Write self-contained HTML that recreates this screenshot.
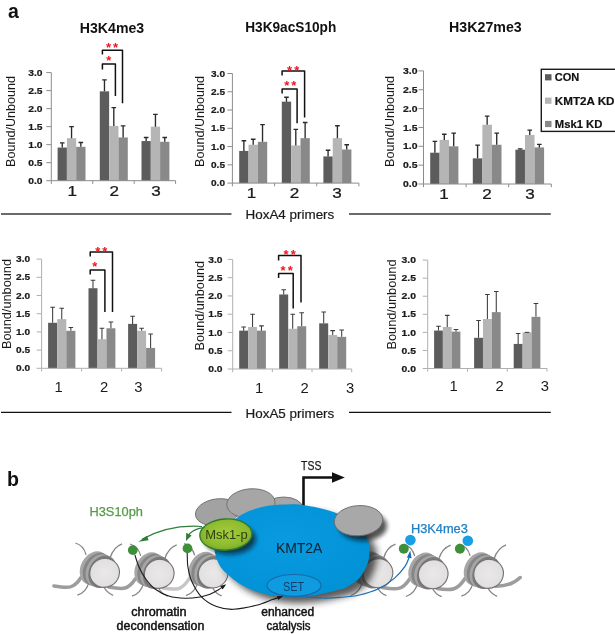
<!DOCTYPE html>
<html lang="en"><head><meta charset="utf-8"><title>Figure</title>
<style>html,body{margin:0;padding:0;background:#fff}svg{display:block}text{font-family:"Liberation Sans",sans-serif}</style></head><body>
<svg width="615" height="634" viewBox="0 0 615 634">
<rect width="615" height="634" fill="#fff"/>
<text x="8" y="18" font-size="19.5" font-weight="bold" fill="#111">a</text>
<text x="7" y="485.7" font-size="19.6" font-weight="bold" fill="#111">b</text>
<text x="79.8" y="32.8" font-size="14.2" font-weight="bold" textLength="64.4" lengthAdjust="spacingAndGlyphs" fill="#111">H3K4me3</text>
<text x="245.2" y="32.4" font-size="14.2" font-weight="bold" textLength="91.1" lengthAdjust="spacingAndGlyphs" fill="#111">H3K9acS10ph</text>
<text x="449.1" y="32.4" font-size="14.2" font-weight="bold" textLength="72.6" lengthAdjust="spacingAndGlyphs" fill="#111">H3K27me3</text>
<rect x="57.6" y="147.55" width="9.3" height="33.15" fill="#5c5c5c"/>
<path d="M62.25 147.55V142.86M59.95 142.86H64.55" stroke="#2a2a2a" stroke-width="1.35" fill="none"/>
<rect x="66.9" y="138.18" width="9.3" height="42.52" fill="#b5b5b5"/>
<path d="M71.55 138.18V126.65M69.25 126.65H73.85" stroke="#2a2a2a" stroke-width="1.35" fill="none"/>
<rect x="76.2" y="146.83" width="9.3" height="33.87" fill="#898989"/>
<path d="M80.85 146.83V142.5M78.55 142.5H83.15" stroke="#2a2a2a" stroke-width="1.35" fill="none"/>
<rect x="99.8" y="91.34" width="9.33" height="89.36" fill="#5c5c5c"/>
<path d="M104.47 91.34V79.81M102.17 79.81H106.77" stroke="#2a2a2a" stroke-width="1.35" fill="none"/>
<rect x="109.13" y="125.93" width="9.33" height="54.77" fill="#b5b5b5"/>
<path d="M113.8 125.93V107.55M111.5 107.55H116.1" stroke="#2a2a2a" stroke-width="1.35" fill="none"/>
<rect x="118.47" y="137.46" width="9.33" height="43.24" fill="#898989"/>
<path d="M123.13 137.46V125.93M120.83 125.93H125.43" stroke="#2a2a2a" stroke-width="1.35" fill="none"/>
<rect x="141.5" y="141.06" width="9.3" height="39.64" fill="#5c5c5c"/>
<path d="M146.15 141.06V137.46M143.85 137.46H148.45" stroke="#2a2a2a" stroke-width="1.35" fill="none"/>
<rect x="150.8" y="126.65" width="9.3" height="54.05" fill="#b5b5b5"/>
<path d="M155.45 126.65V114.4M153.15 114.4H157.75" stroke="#2a2a2a" stroke-width="1.35" fill="none"/>
<rect x="160.1" y="141.78" width="9.3" height="38.92" fill="#898989"/>
<path d="M164.75 141.78V137.46M162.45 137.46H167.05" stroke="#2a2a2a" stroke-width="1.35" fill="none"/>
<path d="M51.3 72.6V180.7H175.6M46.3 180.7H51.3M46.3 162.68H51.3M46.3 144.67H51.3M46.3 126.65H51.3M46.3 108.63H51.3M46.3 90.62H51.3M46.3 72.6H51.3M51.3 180.7V183.9M92.73 180.7V183.9M134.17 180.7V183.9M175.6 180.7V183.9" stroke="#8c8c8c" stroke-width="1" fill="none"/>
<text x="28.2" y="183.85" font-size="8.8" font-weight="bold" textLength="14.3" lengthAdjust="spacingAndGlyphs" fill="#1a1a1a" stroke="#1a1a1a" stroke-width="0.2">0.0</text>
<text x="28.2" y="165.83" font-size="8.8" font-weight="bold" textLength="14.3" lengthAdjust="spacingAndGlyphs" fill="#1a1a1a" stroke="#1a1a1a" stroke-width="0.2">0.5</text>
<text x="28.2" y="147.82" font-size="8.8" font-weight="bold" textLength="14.3" lengthAdjust="spacingAndGlyphs" fill="#1a1a1a" stroke="#1a1a1a" stroke-width="0.2">1.0</text>
<text x="28.2" y="129.8" font-size="8.8" font-weight="bold" textLength="14.3" lengthAdjust="spacingAndGlyphs" fill="#1a1a1a" stroke="#1a1a1a" stroke-width="0.2">1.5</text>
<text x="28.2" y="111.78" font-size="8.8" font-weight="bold" textLength="14.3" lengthAdjust="spacingAndGlyphs" fill="#1a1a1a" stroke="#1a1a1a" stroke-width="0.2">2.0</text>
<text x="28.2" y="93.77" font-size="8.8" font-weight="bold" textLength="14.3" lengthAdjust="spacingAndGlyphs" fill="#1a1a1a" stroke="#1a1a1a" stroke-width="0.2">2.5</text>
<text x="28.2" y="75.75" font-size="8.8" font-weight="bold" textLength="14.3" lengthAdjust="spacingAndGlyphs" fill="#1a1a1a" stroke="#1a1a1a" stroke-width="0.2">3.0</text>
<text transform="translate(15.2 121.5) rotate(-90)" text-anchor="middle" font-size="12.5" textLength="91" lengthAdjust="spacingAndGlyphs" fill="#1a1a1a">Bound/Unbound</text>
<text transform="translate(72.3 195.7) scale(1.22 1)" text-anchor="middle" font-size="14" fill="#1a1a1a" stroke="#1a1a1a" stroke-width="0.25">1</text>
<text transform="translate(114.3 195.7) scale(1.22 1)" text-anchor="middle" font-size="14" fill="#1a1a1a" stroke="#1a1a1a" stroke-width="0.25">2</text>
<text transform="translate(156.1 195.7) scale(1.22 1)" text-anchor="middle" font-size="14" fill="#1a1a1a" stroke="#1a1a1a" stroke-width="0.25">3</text>
<path d="M102.4 54.5V50.2H122.5V103.3" stroke="#111" stroke-width="1.5" stroke-linejoin="round" fill="none"/>
<path d="M102.4 69.5V63.9H115.4V96.1" stroke="#111" stroke-width="1.5" stroke-linejoin="round" fill="none"/>
<text x="108.6" y="52.4" text-anchor="middle" font-size="13" font-weight="bold" fill="#f0141e">*</text><text x="115.5" y="52.4" text-anchor="middle" font-size="13" font-weight="bold" fill="#f0141e">*</text>
<text x="108.9" y="65.3" text-anchor="middle" font-size="13" font-weight="bold" fill="#f0141e">*</text>
<rect x="239.2" y="150.95" width="9.33" height="32.15" fill="#5c5c5c"/>
<path d="M243.87 150.95V140.72M241.57 140.72H246.17" stroke="#2a2a2a" stroke-width="1.35" fill="none"/>
<rect x="248.53" y="144.74" width="9.33" height="38.36" fill="#b5b5b5"/>
<path d="M253.2 144.74V139.26M250.9 139.26H255.5" stroke="#2a2a2a" stroke-width="1.35" fill="none"/>
<rect x="257.87" y="141.82" width="9.33" height="41.28" fill="#898989"/>
<path d="M262.53 141.82V124.65M260.23 124.65H264.83" stroke="#2a2a2a" stroke-width="1.35" fill="none"/>
<rect x="281.8" y="101.63" width="9.33" height="81.47" fill="#5c5c5c"/>
<path d="M286.47 101.63V97.25M284.17 97.25H288.77" stroke="#2a2a2a" stroke-width="1.35" fill="none"/>
<rect x="291.13" y="145.47" width="9.33" height="37.63" fill="#b5b5b5"/>
<path d="M295.8 145.47V129.4M293.5 129.4H298.1" stroke="#2a2a2a" stroke-width="1.35" fill="none"/>
<rect x="300.47" y="138.16" width="9.33" height="44.94" fill="#898989"/>
<path d="M305.13 138.16V122.45M302.83 122.45H307.43" stroke="#2a2a2a" stroke-width="1.35" fill="none"/>
<rect x="323.4" y="156.43" width="9.33" height="26.67" fill="#5c5c5c"/>
<path d="M328.07 156.43V150.22M325.77 150.22H330.37" stroke="#2a2a2a" stroke-width="1.35" fill="none"/>
<rect x="332.73" y="138.16" width="9.33" height="44.94" fill="#b5b5b5"/>
<path d="M337.4 138.16V125.74M335.1 125.74H339.7" stroke="#2a2a2a" stroke-width="1.35" fill="none"/>
<rect x="342.07" y="149.49" width="9.33" height="33.61" fill="#898989"/>
<path d="M346.73 149.49V144.74M344.43 144.74H349.03" stroke="#2a2a2a" stroke-width="1.35" fill="none"/>
<path d="M232.4 73.5V183.1H358.9M227.4 183.1H232.4M227.4 164.83H232.4M227.4 146.57H232.4M227.4 128.3H232.4M227.4 110.03H232.4M227.4 91.77H232.4M227.4 73.5H232.4M232.4 183.1V186.3M274.57 183.1V186.3M316.73 183.1V186.3M358.9 183.1V186.3" stroke="#8c8c8c" stroke-width="1" fill="none"/>
<text x="211" y="186.25" font-size="8.8" font-weight="bold" textLength="14" lengthAdjust="spacingAndGlyphs" fill="#1a1a1a" stroke="#1a1a1a" stroke-width="0.2">0.0</text>
<text x="211" y="167.98" font-size="8.8" font-weight="bold" textLength="14" lengthAdjust="spacingAndGlyphs" fill="#1a1a1a" stroke="#1a1a1a" stroke-width="0.2">0.5</text>
<text x="211" y="149.72" font-size="8.8" font-weight="bold" textLength="14" lengthAdjust="spacingAndGlyphs" fill="#1a1a1a" stroke="#1a1a1a" stroke-width="0.2">1.0</text>
<text x="211" y="131.45" font-size="8.8" font-weight="bold" textLength="14" lengthAdjust="spacingAndGlyphs" fill="#1a1a1a" stroke="#1a1a1a" stroke-width="0.2">1.5</text>
<text x="211" y="113.18" font-size="8.8" font-weight="bold" textLength="14" lengthAdjust="spacingAndGlyphs" fill="#1a1a1a" stroke="#1a1a1a" stroke-width="0.2">2.0</text>
<text x="211" y="94.92" font-size="8.8" font-weight="bold" textLength="14" lengthAdjust="spacingAndGlyphs" fill="#1a1a1a" stroke="#1a1a1a" stroke-width="0.2">2.5</text>
<text x="211" y="76.65" font-size="8.8" font-weight="bold" textLength="14" lengthAdjust="spacingAndGlyphs" fill="#1a1a1a" stroke="#1a1a1a" stroke-width="0.2">3.0</text>
<text transform="translate(204.3 121.5) rotate(-90)" text-anchor="middle" font-size="12.5" textLength="91" lengthAdjust="spacingAndGlyphs" fill="#1a1a1a">Bound/Unbound</text>
<text transform="translate(251.5 197.8) scale(1.22 1)" text-anchor="middle" font-size="14" fill="#1a1a1a" stroke="#1a1a1a" stroke-width="0.25">1</text>
<text transform="translate(294.5 197.8) scale(1.22 1)" text-anchor="middle" font-size="14" fill="#1a1a1a" stroke="#1a1a1a" stroke-width="0.25">2</text>
<text transform="translate(337 197.8) scale(1.22 1)" text-anchor="middle" font-size="14" fill="#1a1a1a" stroke="#1a1a1a" stroke-width="0.25">3</text>
<path d="M282.1 75.5V70.9H304.6V117.4" stroke="#111" stroke-width="1.5" stroke-linejoin="round" fill="none"/>
<path d="M282.1 93.4V89.1H297.1V123.3" stroke="#111" stroke-width="1.5" stroke-linejoin="round" fill="none"/>
<text x="289.5" y="74.6" text-anchor="middle" font-size="13" font-weight="bold" fill="#f0141e">*</text><text x="296.8" y="74.6" text-anchor="middle" font-size="13" font-weight="bold" fill="#f0141e">*</text>
<text x="286.7" y="89.6" text-anchor="middle" font-size="13" font-weight="bold" fill="#f0141e">*</text><text x="293.8" y="89.6" text-anchor="middle" font-size="13" font-weight="bold" fill="#f0141e">*</text>
<rect x="430.2" y="152.71" width="9.4" height="31.29" fill="#5c5c5c"/>
<path d="M434.9 152.71V141.4M432.6 141.4H437.2" stroke="#2a2a2a" stroke-width="1.35" fill="none"/>
<rect x="439.6" y="139.89" width="9.4" height="44.11" fill="#b5b5b5"/>
<path d="M444.3 139.89V134.24M442 134.24H446.6" stroke="#2a2a2a" stroke-width="1.35" fill="none"/>
<rect x="449" y="146.3" width="9.4" height="37.7" fill="#898989"/>
<path d="M453.7 146.3V133.11M451.4 133.11H456" stroke="#2a2a2a" stroke-width="1.35" fill="none"/>
<rect x="472.8" y="158.36" width="9.57" height="25.64" fill="#5c5c5c"/>
<path d="M477.58 158.36V145.17M475.28 145.17H479.88" stroke="#2a2a2a" stroke-width="1.35" fill="none"/>
<rect x="482.37" y="124.81" width="9.57" height="59.19" fill="#b5b5b5"/>
<path d="M487.15 124.81V116.14M484.85 116.14H489.45" stroke="#2a2a2a" stroke-width="1.35" fill="none"/>
<rect x="491.93" y="144.79" width="9.57" height="39.21" fill="#898989"/>
<path d="M496.72 144.79V133.11M494.42 133.11H499.02" stroke="#2a2a2a" stroke-width="1.35" fill="none"/>
<rect x="515.4" y="149.69" width="9.57" height="34.31" fill="#5c5c5c"/>
<path d="M520.18 149.69V148.94M517.88 148.94H522.48" stroke="#2a2a2a" stroke-width="1.35" fill="none"/>
<rect x="524.97" y="134.99" width="9.57" height="49.01" fill="#b5b5b5"/>
<path d="M529.75 134.99V130.09M527.45 130.09H532.05" stroke="#2a2a2a" stroke-width="1.35" fill="none"/>
<rect x="534.53" y="147.43" width="9.57" height="36.57" fill="#898989"/>
<path d="M539.32 147.43V144.42M537.02 144.42H541.62" stroke="#2a2a2a" stroke-width="1.35" fill="none"/>
<path d="M423.5 70.9V184H551.3M418.5 184H423.5M418.5 165.15H423.5M418.5 146.3H423.5M418.5 127.45H423.5M418.5 108.6H423.5M418.5 89.75H423.5M418.5 70.9H423.5M423.5 184V187.2M466.1 184V187.2M508.7 184V187.2M551.3 184V187.2" stroke="#8c8c8c" stroke-width="1" fill="none"/>
<text x="403" y="187.15" font-size="8.8" font-weight="bold" textLength="14.5" lengthAdjust="spacingAndGlyphs" fill="#1a1a1a" stroke="#1a1a1a" stroke-width="0.2">0.0</text>
<text x="403" y="168.3" font-size="8.8" font-weight="bold" textLength="14.5" lengthAdjust="spacingAndGlyphs" fill="#1a1a1a" stroke="#1a1a1a" stroke-width="0.2">0.5</text>
<text x="403" y="149.45" font-size="8.8" font-weight="bold" textLength="14.5" lengthAdjust="spacingAndGlyphs" fill="#1a1a1a" stroke="#1a1a1a" stroke-width="0.2">1.0</text>
<text x="403" y="130.6" font-size="8.8" font-weight="bold" textLength="14.5" lengthAdjust="spacingAndGlyphs" fill="#1a1a1a" stroke="#1a1a1a" stroke-width="0.2">1.5</text>
<text x="403" y="111.75" font-size="8.8" font-weight="bold" textLength="14.5" lengthAdjust="spacingAndGlyphs" fill="#1a1a1a" stroke="#1a1a1a" stroke-width="0.2">2.0</text>
<text x="403" y="92.9" font-size="8.8" font-weight="bold" textLength="14.5" lengthAdjust="spacingAndGlyphs" fill="#1a1a1a" stroke="#1a1a1a" stroke-width="0.2">2.5</text>
<text x="403" y="74.05" font-size="8.8" font-weight="bold" textLength="14.5" lengthAdjust="spacingAndGlyphs" fill="#1a1a1a" stroke="#1a1a1a" stroke-width="0.2">3.0</text>
<text transform="translate(394 121.5) rotate(-90)" text-anchor="middle" font-size="12.5" textLength="91" lengthAdjust="spacingAndGlyphs" fill="#1a1a1a">Bound/Unbound</text>
<text transform="translate(444 198.5) scale(1.22 1)" text-anchor="middle" font-size="14" fill="#1a1a1a" stroke="#1a1a1a" stroke-width="0.25">1</text>
<text transform="translate(487 198.5) scale(1.22 1)" text-anchor="middle" font-size="14" fill="#1a1a1a" stroke="#1a1a1a" stroke-width="0.25">2</text>
<text transform="translate(530 198.5) scale(1.22 1)" text-anchor="middle" font-size="14" fill="#1a1a1a" stroke="#1a1a1a" stroke-width="0.25">3</text>
<rect x="541.3" y="69.3" width="80" height="62.1" fill="#fff" stroke="#1a1a1a" stroke-width="1.4"/>
<rect x="545" y="74.2" width="6.5" height="6.2" fill="#5c5c5c"/>
<text x="554.8" y="81.4" font-size="11.6" font-weight="bold" textLength="24.5" lengthAdjust="spacingAndGlyphs" fill="#111" stroke="#111" stroke-width="0.2">CON</text>
<rect x="545" y="97.6" width="6.5" height="6.2" fill="#b5b5b5"/>
<text x="554.8" y="104.8" font-size="11.6" font-weight="bold" textLength="59.7" lengthAdjust="spacingAndGlyphs" fill="#111" stroke="#111" stroke-width="0.2">KMT2A KD</text>
<rect x="545" y="120.9" width="6.5" height="6.2" fill="#898989"/>
<text x="554.8" y="128.1" font-size="11.6" font-weight="bold" textLength="47.6" lengthAdjust="spacingAndGlyphs" fill="#111" stroke="#111" stroke-width="0.2">Msk1 KD</text>
<path d="M1 214H231.5M349 214H550.8" stroke="#3a3a3a" stroke-width="1.5"/>
<text x="245.5" y="219.4" font-size="13.5" textLength="88.8" lengthAdjust="spacingAndGlyphs" fill="#1a1a1a" stroke="#1a1a1a" stroke-width="0.2">HoxA4 primers</text>
<rect x="48.1" y="322.8" width="9.1" height="45.5" fill="#5c5c5c"/>
<path d="M52.65 322.8V307.15M50.35 307.15H54.95" stroke="#3c3c3c" stroke-width="1.05" fill="none"/>
<rect x="57.2" y="319.16" width="9.1" height="49.14" fill="#b5b5b5"/>
<path d="M61.75 319.16V308.24M59.45 308.24H64.05" stroke="#3c3c3c" stroke-width="1.05" fill="none"/>
<rect x="66.3" y="330.81" width="9.1" height="37.49" fill="#898989"/>
<path d="M70.85 330.81V327.53M68.55 327.53H73.15" stroke="#3c3c3c" stroke-width="1.05" fill="none"/>
<rect x="88.5" y="288.22" width="8.97" height="80.08" fill="#5c5c5c"/>
<path d="M92.98 288.22V280.21M90.68 280.21H95.28" stroke="#3c3c3c" stroke-width="1.05" fill="none"/>
<rect x="97.47" y="339.18" width="8.97" height="29.12" fill="#b5b5b5"/>
<path d="M101.95 339.18V328.26M99.65 328.26H104.25" stroke="#3c3c3c" stroke-width="1.05" fill="none"/>
<rect x="106.43" y="328.26" width="8.97" height="40.04" fill="#898989"/>
<path d="M110.92 328.26V322.07M108.62 322.07H113.22" stroke="#3c3c3c" stroke-width="1.05" fill="none"/>
<rect x="128.1" y="323.89" width="9" height="44.41" fill="#5c5c5c"/>
<path d="M132.6 323.89V316.25M130.3 316.25H134.9" stroke="#3c3c3c" stroke-width="1.05" fill="none"/>
<rect x="137.1" y="330.81" width="9" height="37.49" fill="#b5b5b5"/>
<path d="M141.6 330.81V328.26M139.3 328.26H143.9" stroke="#3c3c3c" stroke-width="1.05" fill="none"/>
<rect x="146.1" y="347.92" width="9" height="20.38" fill="#898989"/>
<path d="M150.6 347.92V334.08M148.3 334.08H152.9" stroke="#3c3c3c" stroke-width="1.05" fill="none"/>
<path d="M41.6 259.1V368.3H161.6M36.6 368.3H41.6M36.6 350.1H41.6M36.6 331.9H41.6M36.6 313.7H41.6M36.6 295.5H41.6M36.6 277.3H41.6M36.6 259.1H41.6M41.6 368.3V371.5M81.6 368.3V371.5M121.6 368.3V371.5M161.6 368.3V371.5" stroke="#b0b0b0" stroke-width="1" fill="none"/>
<text x="16" y="371.45" font-size="8.8" font-weight="bold" textLength="14.1" lengthAdjust="spacingAndGlyphs" fill="#1a1a1a" stroke="#1a1a1a" stroke-width="0.2">0.0</text>
<text x="16" y="353.25" font-size="8.8" font-weight="bold" textLength="14.1" lengthAdjust="spacingAndGlyphs" fill="#1a1a1a" stroke="#1a1a1a" stroke-width="0.2">0.5</text>
<text x="16" y="335.05" font-size="8.8" font-weight="bold" textLength="14.1" lengthAdjust="spacingAndGlyphs" fill="#1a1a1a" stroke="#1a1a1a" stroke-width="0.2">1.0</text>
<text x="16" y="316.85" font-size="8.8" font-weight="bold" textLength="14.1" lengthAdjust="spacingAndGlyphs" fill="#1a1a1a" stroke="#1a1a1a" stroke-width="0.2">1.5</text>
<text x="16" y="298.65" font-size="8.8" font-weight="bold" textLength="14.1" lengthAdjust="spacingAndGlyphs" fill="#1a1a1a" stroke="#1a1a1a" stroke-width="0.2">2.0</text>
<text x="16" y="280.45" font-size="8.8" font-weight="bold" textLength="14.1" lengthAdjust="spacingAndGlyphs" fill="#1a1a1a" stroke="#1a1a1a" stroke-width="0.2">2.5</text>
<text x="16" y="262.25" font-size="8.8" font-weight="bold" textLength="14.1" lengthAdjust="spacingAndGlyphs" fill="#1a1a1a" stroke="#1a1a1a" stroke-width="0.2">3.0</text>
<text transform="translate(11 304) rotate(-90)" text-anchor="middle" font-size="12.5" textLength="90" lengthAdjust="spacingAndGlyphs" fill="#1a1a1a">Bound/unbound</text>
<text transform="translate(58.6 391.7) scale(1.02 1)" text-anchor="middle" font-size="14.5" fill="#1a1a1a" stroke="#1a1a1a" stroke-width="0">1</text>
<text transform="translate(104.2 391.7) scale(1.02 1)" text-anchor="middle" font-size="14.5" fill="#1a1a1a" stroke="#1a1a1a" stroke-width="0">2</text>
<text transform="translate(138.3 391.7) scale(1.02 1)" text-anchor="middle" font-size="14.5" fill="#1a1a1a" stroke="#1a1a1a" stroke-width="0">3</text>
<path d="M90.2 256.6V251.9H112.5V312.1" stroke="#111" stroke-width="1.5" stroke-linejoin="round" fill="none"/>
<path d="M90.2 274.4V269.9H104.9V312.1" stroke="#111" stroke-width="1.5" stroke-linejoin="round" fill="none"/>
<text x="97.7" y="255.7" text-anchor="middle" font-size="13" font-weight="bold" fill="#f0141e">*</text><text x="104.7" y="255.7" text-anchor="middle" font-size="13" font-weight="bold" fill="#f0141e">*</text>
<text x="94.7" y="270.6" text-anchor="middle" font-size="13" font-weight="bold" fill="#f0141e">*</text>
<rect x="239.2" y="330.64" width="8.9" height="38.36" fill="#5c5c5c"/>
<path d="M243.65 330.64V326.99M241.35 326.99H245.95" stroke="#3c3c3c" stroke-width="1.05" fill="none"/>
<rect x="248.1" y="326.99" width="8.9" height="42.01" fill="#b5b5b5"/>
<path d="M252.55 326.99V314.2M250.25 314.2H254.85" stroke="#3c3c3c" stroke-width="1.05" fill="none"/>
<rect x="257" y="330.64" width="8.9" height="38.36" fill="#898989"/>
<path d="M261.45 330.64V325.89M259.15 325.89H263.75" stroke="#3c3c3c" stroke-width="1.05" fill="none"/>
<rect x="279.2" y="294.47" width="9" height="74.53" fill="#5c5c5c"/>
<path d="M283.7 294.47V289.72M281.4 289.72H286" stroke="#3c3c3c" stroke-width="1.05" fill="none"/>
<rect x="288.2" y="328.81" width="9" height="40.19" fill="#b5b5b5"/>
<path d="M292.7 328.81V314.2M290.4 314.2H295" stroke="#3c3c3c" stroke-width="1.05" fill="none"/>
<rect x="297.2" y="326.26" width="9" height="42.74" fill="#898989"/>
<path d="M301.7 326.26V312.74M299.4 312.74H304" stroke="#3c3c3c" stroke-width="1.05" fill="none"/>
<rect x="319.2" y="323.33" width="9" height="45.67" fill="#5c5c5c"/>
<path d="M323.7 323.33V312.01M321.4 312.01H326" stroke="#3c3c3c" stroke-width="1.05" fill="none"/>
<rect x="328.2" y="335.02" width="9" height="33.98" fill="#b5b5b5"/>
<path d="M332.7 335.02V330.64M330.4 330.64H335" stroke="#3c3c3c" stroke-width="1.05" fill="none"/>
<rect x="337.2" y="336.85" width="9" height="32.15" fill="#898989"/>
<path d="M341.7 336.85V329.91M339.4 329.91H344" stroke="#3c3c3c" stroke-width="1.05" fill="none"/>
<path d="M232.7 259.4V369H351.7M227.7 369H232.7M227.7 350.73H232.7M227.7 332.47H232.7M227.7 314.2H232.7M227.7 295.93H232.7M227.7 277.67H232.7M227.7 259.4H232.7M232.7 369V372.2M272.37 369V372.2M312.03 369V372.2M351.7 369V372.2" stroke="#b0b0b0" stroke-width="1" fill="none"/>
<text x="208.3" y="372.15" font-size="8.8" font-weight="bold" textLength="14.3" lengthAdjust="spacingAndGlyphs" fill="#1a1a1a" stroke="#1a1a1a" stroke-width="0.2">0.0</text>
<text x="208.3" y="353.88" font-size="8.8" font-weight="bold" textLength="14.3" lengthAdjust="spacingAndGlyphs" fill="#1a1a1a" stroke="#1a1a1a" stroke-width="0.2">0.5</text>
<text x="208.3" y="335.62" font-size="8.8" font-weight="bold" textLength="14.3" lengthAdjust="spacingAndGlyphs" fill="#1a1a1a" stroke="#1a1a1a" stroke-width="0.2">1.0</text>
<text x="208.3" y="317.35" font-size="8.8" font-weight="bold" textLength="14.3" lengthAdjust="spacingAndGlyphs" fill="#1a1a1a" stroke="#1a1a1a" stroke-width="0.2">1.5</text>
<text x="208.3" y="299.08" font-size="8.8" font-weight="bold" textLength="14.3" lengthAdjust="spacingAndGlyphs" fill="#1a1a1a" stroke="#1a1a1a" stroke-width="0.2">2.0</text>
<text x="208.3" y="280.82" font-size="8.8" font-weight="bold" textLength="14.3" lengthAdjust="spacingAndGlyphs" fill="#1a1a1a" stroke="#1a1a1a" stroke-width="0.2">2.5</text>
<text x="208.3" y="262.55" font-size="8.8" font-weight="bold" textLength="14.3" lengthAdjust="spacingAndGlyphs" fill="#1a1a1a" stroke="#1a1a1a" stroke-width="0.2">3.0</text>
<text transform="translate(204.4 305.7) rotate(-90)" text-anchor="middle" font-size="12.5" textLength="89.4" lengthAdjust="spacingAndGlyphs" fill="#1a1a1a">Bound/unbound</text>
<text transform="translate(259 393) scale(1.02 1)" text-anchor="middle" font-size="14.5" fill="#1a1a1a" stroke="#1a1a1a" stroke-width="0">1</text>
<text transform="translate(304.6 393) scale(1.02 1)" text-anchor="middle" font-size="14.5" fill="#1a1a1a" stroke="#1a1a1a" stroke-width="0">2</text>
<text transform="translate(350 393) scale(1.02 1)" text-anchor="middle" font-size="14.5" fill="#1a1a1a" stroke="#1a1a1a" stroke-width="0">3</text>
<path d="M278.6 260.4V255.6H301V302.4" stroke="#111" stroke-width="1.5" stroke-linejoin="round" fill="none"/>
<path d="M278.6 278V273.4H293.2V308.6" stroke="#111" stroke-width="1.5" stroke-linejoin="round" fill="none"/>
<text x="286" y="258.7" text-anchor="middle" font-size="13" font-weight="bold" fill="#f0141e">*</text><text x="293.2" y="258.7" text-anchor="middle" font-size="13" font-weight="bold" fill="#f0141e">*</text>
<text x="283.1" y="274.5" text-anchor="middle" font-size="13" font-weight="bold" fill="#f0141e">*</text><text x="290.2" y="274.5" text-anchor="middle" font-size="13" font-weight="bold" fill="#f0141e">*</text>
<rect x="434.1" y="330.56" width="8.77" height="37.94" fill="#5c5c5c"/>
<path d="M438.48 330.56V326.22M436.18 326.22H440.78" stroke="#3c3c3c" stroke-width="1.05" fill="none"/>
<rect x="442.87" y="326.95" width="8.77" height="41.55" fill="#b5b5b5"/>
<path d="M447.25 326.95V315.38M444.95 315.38H449.55" stroke="#3c3c3c" stroke-width="1.05" fill="none"/>
<rect x="451.63" y="331.64" width="8.77" height="36.86" fill="#898989"/>
<path d="M456.02 331.64V329.48M453.72 329.48H458.32" stroke="#3c3c3c" stroke-width="1.05" fill="none"/>
<rect x="474.1" y="337.79" width="8.87" height="30.71" fill="#5c5c5c"/>
<path d="M478.53 337.79V320.44M476.23 320.44H480.83" stroke="#3c3c3c" stroke-width="1.05" fill="none"/>
<rect x="482.97" y="319" width="8.87" height="49.5" fill="#b5b5b5"/>
<path d="M487.4 319V294.43M485.1 294.43H489.7" stroke="#3c3c3c" stroke-width="1.05" fill="none"/>
<rect x="491.83" y="312.13" width="8.87" height="56.37" fill="#898989"/>
<path d="M496.27 312.13V291.54M493.97 291.54H498.57" stroke="#3c3c3c" stroke-width="1.05" fill="none"/>
<rect x="513.7" y="343.93" width="8.9" height="24.57" fill="#5c5c5c"/>
<path d="M518.15 343.93V333.45M515.85 333.45H520.45" stroke="#3c3c3c" stroke-width="1.05" fill="none"/>
<rect x="522.6" y="332.37" width="8.9" height="36.13" fill="#b5b5b5"/>
<path d="M524.75 332.37H529.35" stroke="#3c3c3c" stroke-width="1.05" fill="none"/>
<rect x="531.5" y="316.83" width="8.9" height="51.67" fill="#898989"/>
<path d="M535.95 316.83V303.46M533.65 303.46H538.25" stroke="#3c3c3c" stroke-width="1.05" fill="none"/>
<path d="M427.7 260.1V368.5H547M422.7 368.5H427.7M422.7 350.43H427.7M422.7 332.37H427.7M422.7 314.3H427.7M422.7 296.23H427.7M422.7 278.17H427.7M422.7 260.1H427.7M427.7 368.5V371.7M467.47 368.5V371.7M507.23 368.5V371.7M547 368.5V371.7" stroke="#b0b0b0" stroke-width="1" fill="none"/>
<text x="401.5" y="371.65" font-size="8.8" font-weight="bold" textLength="14.4" lengthAdjust="spacingAndGlyphs" fill="#1a1a1a" stroke="#1a1a1a" stroke-width="0.2">0.0</text>
<text x="401.5" y="353.58" font-size="8.8" font-weight="bold" textLength="14.4" lengthAdjust="spacingAndGlyphs" fill="#1a1a1a" stroke="#1a1a1a" stroke-width="0.2">0.5</text>
<text x="401.5" y="335.52" font-size="8.8" font-weight="bold" textLength="14.4" lengthAdjust="spacingAndGlyphs" fill="#1a1a1a" stroke="#1a1a1a" stroke-width="0.2">1.0</text>
<text x="401.5" y="317.45" font-size="8.8" font-weight="bold" textLength="14.4" lengthAdjust="spacingAndGlyphs" fill="#1a1a1a" stroke="#1a1a1a" stroke-width="0.2">1.5</text>
<text x="401.5" y="299.38" font-size="8.8" font-weight="bold" textLength="14.4" lengthAdjust="spacingAndGlyphs" fill="#1a1a1a" stroke="#1a1a1a" stroke-width="0.2">2.0</text>
<text x="401.5" y="281.32" font-size="8.8" font-weight="bold" textLength="14.4" lengthAdjust="spacingAndGlyphs" fill="#1a1a1a" stroke="#1a1a1a" stroke-width="0.2">2.5</text>
<text x="401.5" y="263.25" font-size="8.8" font-weight="bold" textLength="14.4" lengthAdjust="spacingAndGlyphs" fill="#1a1a1a" stroke="#1a1a1a" stroke-width="0.2">3.0</text>
<text transform="translate(395.5 304.5) rotate(-90)" text-anchor="middle" font-size="12.5" textLength="90" lengthAdjust="spacingAndGlyphs" fill="#1a1a1a">Bound/unbound</text>
<text transform="translate(453.6 390.9) scale(1.02 1)" text-anchor="middle" font-size="14.5" fill="#1a1a1a" stroke="#1a1a1a" stroke-width="0">1</text>
<text transform="translate(499.6 390.9) scale(1.02 1)" text-anchor="middle" font-size="14.5" fill="#1a1a1a" stroke="#1a1a1a" stroke-width="0">2</text>
<text transform="translate(544.8 390.9) scale(1.02 1)" text-anchor="middle" font-size="14.5" fill="#1a1a1a" stroke="#1a1a1a" stroke-width="0">3</text>
<path d="M1 412.3H231.5M349 412.3H550.8" stroke="#111" stroke-width="1.3"/>
<text x="245.5" y="417.6" font-size="13.5" textLength="88.8" lengthAdjust="spacingAndGlyphs" fill="#1a1a1a" stroke="#1a1a1a" stroke-width="0.2">HoxA5 primers</text>
<defs>
<filter id="blur3" x="-30%" y="-30%" width="160%" height="160%"><feGaussianBlur stdDeviation="3.5"/></filter>
<filter id="blur2" x="-30%" y="-30%" width="160%" height="160%"><feGaussianBlur stdDeviation="2.2"/></filter>
<radialGradient id="gmsk" cx="50%" cy="45%" r="60%"><stop offset="0" stop-color="#a6cc3e"/><stop offset="0.7" stop-color="#8dbb2e"/><stop offset="1" stop-color="#6fa328"/></radialGradient>
<radialGradient id="gblue" cx="45%" cy="40%" r="70%"><stop offset="0" stop-color="#0a9ae0"/><stop offset="1" stop-color="#0090d4"/></radialGradient>
<linearGradient id="ggray" x1="0" y1="0" x2="1" y2="1"><stop offset="0" stop-color="#b0b0b0"/><stop offset="1" stop-color="#9a9a9a"/></linearGradient>
<radialGradient id="gface" cx="50%" cy="50%" r="55%"><stop offset="0" stop-color="#ebe8e8"/><stop offset="0.8" stop-color="#e2e0e0"/><stop offset="1" stop-color="#d2d0d0"/></radialGradient>
</defs>
<path d="M53.9 585.9C68.9 588.4 73.8 588.8 80.8 577.8" stroke="#9d9d9d" stroke-width="3.5" fill="none" stroke-linecap="round"/>
<path d="M108.6 587.1C123.6 589.6 128.4 589.8 135.4 578.8" stroke="#9d9d9d" stroke-width="3.5" fill="none" stroke-linecap="round"/>
<path d="M163.2 588.1C178.2 590.6 182.4 589.4 189.4 578.4" stroke="#c6c6c6" stroke-width="3.5" fill="none" stroke-linecap="round"/>
<path d="M382 587.5C397 590 402.4 590.2 409.4 579.2" stroke="#9d9d9d" stroke-width="3.5" fill="none" stroke-linecap="round"/>
<path d="M437.2 588.5C452.2 591 457.8 589.8 464.8 578.8" stroke="#9d9d9d" stroke-width="3.5" fill="none" stroke-linecap="round"/>
<path d="M495.5 586.2Q511 586.5 520.2 577.5" stroke="#9d9d9d" stroke-width="3.5" fill="none" stroke-linecap="round"/>
<g transform="translate(104.6 572.8)"><path d="M-29.2 -29.8Q-21 -27.5 -18.5 -18M17.5 -29Q9 -26 5.5 -15M-27.3 22.3Q-18 19.5 -15.5 8.5M8.5 22.5Q2 20 -1 13.5" stroke="#868686" stroke-width="1.25" fill="none"/><g><ellipse cx="-10.6" cy="-4.8" rx="13.2" ry="17.6" fill="#a6a6a6" transform="rotate(28 -10.6 -4.8)"/><ellipse cx="-7.6" cy="-3.4" rx="13.2" ry="17.4" fill="#868686" transform="rotate(28 -7.6 -3.4)"/><ellipse cx="-4.8" cy="-2.2" rx="13.2" ry="17.2" fill="#a6a6a6" transform="rotate(28 -4.8 -2.2)"/><ellipse cx="-2.2" cy="-1" rx="13.2" ry="17" fill="#7c7c7c" transform="rotate(28 -2.2 -1)"/><ellipse cx="0" cy="0" rx="15" ry="14.4" fill="url(#gface)" stroke="#727272" stroke-width="1.1" transform="rotate(-30)"/></g></g>
<g transform="translate(159.2 573.8)"><path d="M-29.2 -29.8Q-21 -27.5 -18.5 -18M17.5 -29Q9 -26 5.5 -15M-27.3 22.3Q-18 19.5 -15.5 8.5M8.5 22.5Q2 20 -1 13.5" stroke="#868686" stroke-width="1.25" fill="none"/><g><ellipse cx="-10.6" cy="-4.8" rx="13.2" ry="17.6" fill="#a6a6a6" transform="rotate(28 -10.6 -4.8)"/><ellipse cx="-7.6" cy="-3.4" rx="13.2" ry="17.4" fill="#868686" transform="rotate(28 -7.6 -3.4)"/><ellipse cx="-4.8" cy="-2.2" rx="13.2" ry="17.2" fill="#a6a6a6" transform="rotate(28 -4.8 -2.2)"/><ellipse cx="-2.2" cy="-1" rx="13.2" ry="17" fill="#7c7c7c" transform="rotate(28 -2.2 -1)"/><ellipse cx="0" cy="0" rx="15" ry="14.4" fill="url(#gface)" stroke="#727272" stroke-width="1.1" transform="rotate(-30)"/></g></g>
<g transform="translate(213.2 573.4)"><path d="M-29.2 -29.8Q-21 -27.5 -18.5 -18M17.5 -29Q9 -26 5.5 -15M-27.3 22.3Q-18 19.5 -15.5 8.5M8.5 22.5Q2 20 -1 13.5" stroke="#868686" stroke-width="1.25" fill="none"/><g><ellipse cx="-10.6" cy="-4.8" rx="13.2" ry="17.6" fill="#a6a6a6" transform="rotate(28 -10.6 -4.8)"/><ellipse cx="-7.6" cy="-3.4" rx="13.2" ry="17.4" fill="#868686" transform="rotate(28 -7.6 -3.4)"/><ellipse cx="-4.8" cy="-2.2" rx="13.2" ry="17.2" fill="#a6a6a6" transform="rotate(28 -4.8 -2.2)"/><ellipse cx="-2.2" cy="-1" rx="13.2" ry="17" fill="#7c7c7c" transform="rotate(28 -2.2 -1)"/><ellipse cx="0" cy="0" rx="15" ry="14.4" fill="url(#gface)" stroke="#727272" stroke-width="1.1" transform="rotate(-30)"/></g></g>
<g transform="translate(378 573.2)"><path d="M-29.2 -29.8Q-21 -27.5 -18.5 -18M17.5 -29Q9 -26 5.5 -15M-27.3 22.3Q-18 19.5 -15.5 8.5M8.5 22.5Q2 20 -1 13.5" stroke="#868686" stroke-width="1.25" fill="none"/><g><ellipse cx="-10.6" cy="-4.8" rx="13.2" ry="17.6" fill="#a6a6a6" transform="rotate(28 -10.6 -4.8)"/><ellipse cx="-7.6" cy="-3.4" rx="13.2" ry="17.4" fill="#868686" transform="rotate(28 -7.6 -3.4)"/><ellipse cx="-4.8" cy="-2.2" rx="13.2" ry="17.2" fill="#a6a6a6" transform="rotate(28 -4.8 -2.2)"/><ellipse cx="-2.2" cy="-1" rx="13.2" ry="17" fill="#7c7c7c" transform="rotate(28 -2.2 -1)"/><ellipse cx="0" cy="0" rx="15" ry="14.4" fill="url(#gface)" stroke="#727272" stroke-width="1.1" transform="rotate(-30)"/></g></g>
<g transform="translate(433.2 574.2)"><path d="M-29.2 -29.8Q-21 -27.5 -18.5 -18M17.5 -29Q9 -26 5.5 -15M-27.3 22.3Q-18 19.5 -15.5 8.5M8.5 22.5Q2 20 -1 13.5" stroke="#868686" stroke-width="1.25" fill="none"/><g><ellipse cx="-10.6" cy="-4.8" rx="13.2" ry="17.6" fill="#a6a6a6" transform="rotate(28 -10.6 -4.8)"/><ellipse cx="-7.6" cy="-3.4" rx="13.2" ry="17.4" fill="#868686" transform="rotate(28 -7.6 -3.4)"/><ellipse cx="-4.8" cy="-2.2" rx="13.2" ry="17.2" fill="#a6a6a6" transform="rotate(28 -4.8 -2.2)"/><ellipse cx="-2.2" cy="-1" rx="13.2" ry="17" fill="#7c7c7c" transform="rotate(28 -2.2 -1)"/><ellipse cx="0" cy="0" rx="15" ry="14.4" fill="url(#gface)" stroke="#727272" stroke-width="1.1" transform="rotate(-30)"/></g></g>
<g transform="translate(488.6 573.8)"><path d="M-29.2 -29.8Q-21 -27.5 -18.5 -18M17.5 -29Q9 -26 5.5 -15M-27.3 22.3Q-18 19.5 -15.5 8.5M8.5 22.5Q2 20 -1 13.5" stroke="#868686" stroke-width="1.25" fill="none"/><g><ellipse cx="-10.6" cy="-4.8" rx="13.2" ry="17.6" fill="#a6a6a6" transform="rotate(28 -10.6 -4.8)"/><ellipse cx="-7.6" cy="-3.4" rx="13.2" ry="17.4" fill="#868686" transform="rotate(28 -7.6 -3.4)"/><ellipse cx="-4.8" cy="-2.2" rx="13.2" ry="17.2" fill="#a6a6a6" transform="rotate(28 -4.8 -2.2)"/><ellipse cx="-2.2" cy="-1" rx="13.2" ry="17" fill="#7c7c7c" transform="rotate(28 -2.2 -1)"/><ellipse cx="0" cy="0" rx="15" ry="14.4" fill="url(#gface)" stroke="#727272" stroke-width="1.1" transform="rotate(-30)"/></g></g>
<ellipse cx="283.7" cy="508" rx="19" ry="11" fill="#a6a6a6" stroke="#6e6e6e" stroke-width="0.9"/>
<ellipse cx="217.3" cy="512.2" rx="22" ry="13.3" fill="#a2a2a2" stroke="#6e6e6e" stroke-width="0.9" transform="rotate(-8 217.3 512.2)"/>
<ellipse cx="250.9" cy="503.4" rx="24.2" ry="14.6" fill="#a6a6a6" stroke="#6e6e6e" stroke-width="0.9" transform="rotate(-4 250.9 503.4)"/>
<path d="M303.5 506V477.5H333" stroke="#111" stroke-width="2.6" fill="none"/>
<path d="M332 472.3L344.8 477.5L332 482.7Z" fill="#111"/>
<path d="M214.3 549C214.08 545.67 214.67 544.42 216.2 541C217.73 537.58 220.2 532.25 223.5 528.5C226.8 524.75 231.83 521.38 236 518.5C240.17 515.62 243.17 513.32 248.5 511.2C253.83 509.08 261.48 506.93 268 505.8C274.52 504.67 281.73 504.53 287.6 504.4C293.47 504.27 296.33 503.98 303.2 505C310.07 506.02 321.33 508.17 328.8 510.5C336.27 512.83 342.47 515.5 348 519C353.53 522.5 358.57 527.67 362 531.5C365.43 535.33 367.33 539.08 368.6 542C369.87 544.92 369.7 545.58 369.6 549C369.5 552.42 369.68 557.67 368 562.5C366.32 567.33 363.08 573.88 359.5 578C355.92 582.12 349.75 585.3 346.5 587.2C343.25 589.1 344.2 588.28 340 589.4C335.8 590.52 327.13 592.73 321.3 593.9C315.47 595.07 310.42 595.85 305 596.4C299.58 596.95 294.22 597.35 288.8 597.2C283.38 597.05 277.92 596.45 272.5 595.5C267.08 594.55 261.25 593.15 256.3 591.5C251.35 589.85 246.35 587.43 242.8 585.6C239.25 583.77 237.6 582.43 235 580.5C232.4 578.57 229.37 575.95 227.2 574C225.03 572.05 223.62 570.97 222 568.8C220.38 566.63 218.78 564.3 217.5 561C216.22 557.7 214.52 552.33 214.3 549Z" fill="#222" opacity="0.75" filter="url(#blur3)" transform="translate(7 6)"/>
<path d="M214.3 549C214.08 545.67 214.67 544.42 216.2 541C217.73 537.58 220.2 532.25 223.5 528.5C226.8 524.75 231.83 521.38 236 518.5C240.17 515.62 243.17 513.32 248.5 511.2C253.83 509.08 261.48 506.93 268 505.8C274.52 504.67 281.73 504.53 287.6 504.4C293.47 504.27 296.33 503.98 303.2 505C310.07 506.02 321.33 508.17 328.8 510.5C336.27 512.83 342.47 515.5 348 519C353.53 522.5 358.57 527.67 362 531.5C365.43 535.33 367.33 539.08 368.6 542C369.87 544.92 369.7 545.58 369.6 549C369.5 552.42 369.68 557.67 368 562.5C366.32 567.33 363.08 573.88 359.5 578C355.92 582.12 349.75 585.3 346.5 587.2C343.25 589.1 344.2 588.28 340 589.4C335.8 590.52 327.13 592.73 321.3 593.9C315.47 595.07 310.42 595.85 305 596.4C299.58 596.95 294.22 597.35 288.8 597.2C283.38 597.05 277.92 596.45 272.5 595.5C267.08 594.55 261.25 593.15 256.3 591.5C251.35 589.85 246.35 587.43 242.8 585.6C239.25 583.77 237.6 582.43 235 580.5C232.4 578.57 229.37 575.95 227.2 574C225.03 572.05 223.62 570.97 222 568.8C220.38 566.63 218.78 564.3 217.5 561C216.22 557.7 214.52 552.33 214.3 549Z" fill="url(#gblue)"/>
<ellipse cx="294" cy="585.4" rx="27" ry="10.9" fill="#0f9bdf" stroke="#1a68ac" stroke-width="1.2"/>
<ellipse cx="363" cy="526" rx="24" ry="15" fill="#111" opacity="0.7" filter="url(#blur2)"/>
<ellipse cx="358.5" cy="520.7" rx="24.3" ry="15.1" fill="#a8a8a8" stroke="#6a6a6a" stroke-width="0.9" transform="rotate(-4 358.5 520.7)"/>
<ellipse cx="230" cy="539" rx="26" ry="15.5" fill="#111" opacity="0.65" filter="url(#blur2)"/>
<ellipse cx="225.9" cy="534.6" rx="26.1" ry="15.6" fill="url(#gmsk)" stroke="#2f7a2c" stroke-width="1.3" transform="rotate(-3 225.9 534.6)"/>
<path d="M202 526.5Q170 524 142 539.2" stroke="#2e7d3a" stroke-width="1.2" fill="none"/>
<path d="M138.3 541.8L147 535.8L148.6 540.2Z" fill="#2e7d3a"/>
<path d="M204.5 527.3Q191 529 187.3 537" stroke="#2e7d3a" stroke-width="1.2" fill="none"/>
<path d="M186 541L186.2 532.8L191.6 535.6Z" fill="#2e7d3a"/>
<path d="M134.8 554.6C135.5 556.67 137.23 563.02 139 567C140.77 570.98 142.73 574.83 145.4 578.5C148.07 582.17 151.1 586.08 155 589C158.9 591.92 163.8 594.45 168.8 596C173.8 597.55 179.8 598.13 185 598.3C190.2 598.47 195.83 597.67 200 597C204.17 596.33 206.9 595.52 210 594.3C213.1 593.08 216.35 591.03 218.6 589.7C220.85 588.37 222.68 586.87 223.5 586.3" stroke="#1a1a1a" stroke-width="1.1" fill="none"/>
<path d="M226.3 584.2L220.2 586L222.6 589.4Z" fill="#1a1a1a"/>
<path d="M187.2 553C187.33 555.42 187.17 562.62 188 567.5C188.83 572.38 189.92 577.37 192.2 582.3C194.48 587.23 197.65 593.05 201.7 597.1C205.75 601.15 211.22 604.57 216.5 606.6C221.78 608.63 226.77 609.52 233.4 609.3C240.03 609.08 249.78 606.92 256.3 605.3C262.82 603.68 268.63 600.93 272.5 599.6C276.37 598.27 278.33 597.68 279.5 597.3" stroke="#1a1a1a" stroke-width="1.1" fill="none"/>
<path d="M283.3 596L276.9 595.9L278.3 599.9Z" fill="#1a1a1a"/>
<path d="M305 596.5C307.83 596.75 316.17 597.85 322 598C327.83 598.15 333.75 597.9 340 597.4C346.25 596.9 353 596.48 359.5 595C366 593.52 373.15 591.32 379 588.5C384.85 585.68 390.27 581.78 394.6 578.1C398.93 574.42 402.55 569.92 405 566.4C407.45 562.88 408.58 558.57 409.3 557" stroke="#1c6db0" stroke-width="1.2" fill="none"/>
<path d="M410.3 550.6L406.9 557.6L411.6 558.2Z" fill="#1c6db0"/>
<circle cx="132.8" cy="550.1" r="4.9" fill="#3d8f3a"/>
<circle cx="187.5" cy="548.4" r="4.9" fill="#3d8f3a"/>
<circle cx="403.8" cy="548.8" r="5" fill="#3d8f3a"/>
<circle cx="459.9" cy="548.7" r="5" fill="#3d8f3a"/>
<circle cx="410.4" cy="540.1" r="5.3" fill="#1b9fe4"/>
<circle cx="467.8" cy="540.8" r="5.3" fill="#1b9fe4"/>
<text x="301.1" y="469.9" font-size="12.8" textLength="20.3" lengthAdjust="spacingAndGlyphs" fill="#1a1a1a" stroke="#1a1a1a" stroke-width="0.25">TSS</text>
<text x="275.9" y="553" font-size="14" textLength="46.5" lengthAdjust="spacingAndGlyphs" fill="#10202c">KMT2A</text>
<text x="283.1" y="591" font-size="12.8" textLength="21.1" lengthAdjust="spacingAndGlyphs" fill="#123f6e">SET</text>
<text x="205.2" y="539.1" font-size="12.3" textLength="42.4" lengthAdjust="spacingAndGlyphs" fill="#2d3d14">Msk1-p</text>
<text x="89.5" y="516.2" font-size="12" textLength="53.4" lengthAdjust="spacingAndGlyphs" fill="#559c45" stroke="#559c45" stroke-width="0.25">H3S10ph</text>
<text x="410.9" y="533.4" font-size="12" textLength="57" lengthAdjust="spacingAndGlyphs" fill="#2080c4" stroke="#2080c4" stroke-width="0.25">H3K4me3</text>
<text x="131.2" y="615.5" font-size="12" stroke="#111" stroke-width="0.45" textLength="55.4" lengthAdjust="spacingAndGlyphs" fill="#111">chromatin</text>
<text x="116.6" y="630.1" font-size="12" stroke="#111" stroke-width="0.45" textLength="87.8" lengthAdjust="spacingAndGlyphs" fill="#111">decondensation</text>
<text x="261.2" y="615.5" font-size="12" stroke="#111" stroke-width="0.45" textLength="52.9" lengthAdjust="spacingAndGlyphs" fill="#111">enhanced</text>
<text x="266.6" y="630.1" font-size="12" stroke="#111" stroke-width="0.45" textLength="43.9" lengthAdjust="spacingAndGlyphs" fill="#111">catalysis</text>
</svg></body></html>
